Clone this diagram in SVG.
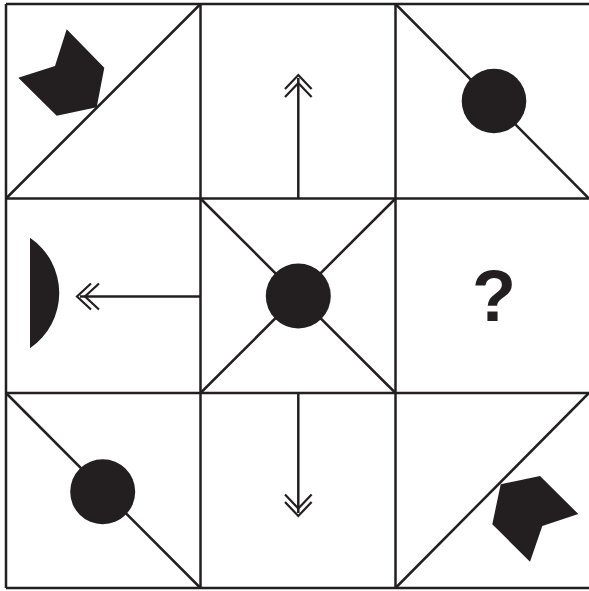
<svg xmlns="http://www.w3.org/2000/svg" width="589" height="591" viewBox="0 0 589 591">
<style>
.ln{stroke:#231f20;stroke-width:2.5;fill:none}
.fl{fill:#231f20;stroke:none}
.ch{stroke:#231f20;stroke-width:2.2;fill:none}
</style>
<rect width="589" height="591" fill="#fff"/>
<g id="grid">
<line class="ln" x1="6" y1="4" x2="590" y2="4"/>
<line class="ln" x1="6" y1="198.5" x2="590" y2="198.5"/>
<line class="ln" x1="6" y1="393" x2="590" y2="393"/>
<line class="ln" x1="6" y1="588" x2="590" y2="588"/>
<line class="ln" x1="6" y1="4" x2="6" y2="588"/>
<line class="ln" x1="200.5" y1="4" x2="200.5" y2="588"/>
<line class="ln" x1="395.5" y1="4" x2="395.5" y2="588"/>
</g>
<g id="cell-1-1">
<line class="ln" x1="6" y1="198.5" x2="200.5" y2="4"/>
<polygon class="fl" points="66.7,29.3 104.3,67.7 96.7,107.3 56.7,115.7 18.3,77.7 55,66"/>
</g>
<g id="cell-1-2">
<line class="ln" x1="298.3" y1="198.5" x2="298.3" y2="78"/>
<polyline class="ch" points="285,89 298.3,75 311.6,89"/>
<polyline class="ch" points="285,97 298.3,83 311.6,97"/>
</g>
<g id="cell-1-3">
<line class="ln" x1="395.5" y1="4" x2="589" y2="198.5"/>
<circle class="fl" cx="494" cy="101" r="32.3"/>
</g>
<g id="cell-2-1">
<path class="fl" d="M30,237.7 A66.9,66.9 0 0 1 30,348.3 Z"/>
<line class="ln" x1="200.5" y1="296.5" x2="80" y2="296.5"/>
<polyline class="ch" points="91,283.5 77,296.5 91,309.5"/>
<polyline class="ch" points="99,283.5 85,296.5 99,309.5"/>
</g>
<g id="cell-2-2">
<line class="ln" x1="200.5" y1="198.5" x2="395.5" y2="393"/>
<line class="ln" x1="395.5" y1="198.5" x2="200.5" y2="393"/>
<circle class="fl" cx="298.3" cy="296" r="32.5"/>
</g>
<g id="cell-2-3">
<text x="494" y="321" font-family="Liberation Sans, Arial, sans-serif" font-weight="bold" font-size="72" text-anchor="middle" fill="#231f20">?</text>
</g>
<g id="cell-3-1">
<line class="ln" x1="6" y1="393" x2="200.5" y2="588"/>
<circle class="fl" cx="102.7" cy="491.7" r="32.5"/>
</g>
<g id="cell-3-2">
<line class="ln" x1="298.3" y1="393" x2="298.3" y2="513"/>
<polyline class="ch" points="285,494.5 298.3,508.5 311.6,494.5"/>
<polyline class="ch" points="285,502 298.3,516 311.6,502"/>
</g>
<g id="cell-3-3">
<line class="ln" x1="395.5" y1="588" x2="589" y2="393"/>
<polygon class="fl" points="540,476 578.3,514 542.3,526 530,561.7 492.3,524.3 500.7,484.3"/>
</g>
</svg>
